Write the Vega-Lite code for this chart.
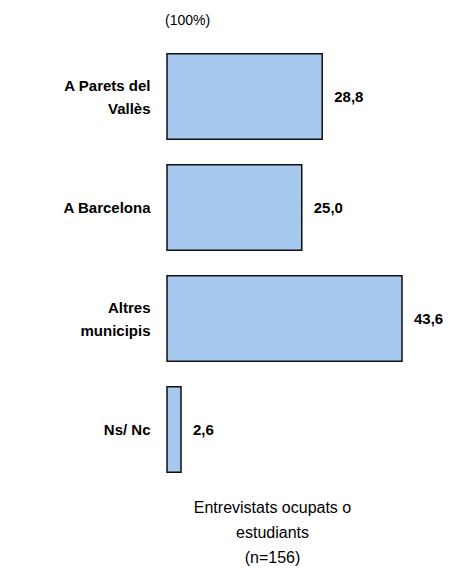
{
  "$schema": "https://vega.github.io/schema/vega-lite/v6.json",
  "autosize": "none",
  "padding": {"left": 167, "top": 41, "right": 63, "bottom": 85},
  "width": 235,
  "height": 444,
  "background": "white",
  "config": {
    "view": {"stroke": null},
    "font": "Liberation Sans",
    "locale": {"number": {"decimal": ",", "thousands": ".", "grouping": [3], "currency": ["", " €"]}}
  },
  "title": {
    "text": "(100%)",
    "anchor": "start",
    "frame": "group",
    "dx": -2,
    "offset": 13,
    "fontSize": 14,
    "fontWeight": "normal",
    "font": "Liberation Sans",
    "color": "#000"
  },
  "data": {
    "values": [
      {"lloc": "A Parets del\nVallès", "pct": 28.8},
      {"lloc": "A Barcelona", "pct": 25.0},
      {"lloc": "Altres\nmunicipis", "pct": 43.6},
      {"lloc": "Ns/ Nc", "pct": 2.6}
    ]
  },
  "encoding": {
    "y": {
      "field": "lloc",
      "type": "nominal",
      "sort": null,
      "scale": {"paddingInner": 0.23, "paddingOuter": 0.115},
      "axis": {
        "title": null,
        "ticks": false,
        "domain": false,
        "labelExpr": "split(datum.label, '\\n')",
        "labelFontSize": 15,
        "labelFontWeight": "bold",
        "labelColor": "#000",
        "labelPadding": 17,
        "labelLineHeight": 23,
        "labelFont": "Liberation Sans",
        "labelOffset": {"condition": {"test": "indexof(datum.value, '\\n') >= 0", "value": -11}, "value": 0}
      }
    },
    "x": {
      "field": "pct",
      "type": "quantitative",
      "scale": {"domain": [0, 43.6], "nice": false, "zero": true},
      "axis": {
        "title": ["Entrevistats ocupats o", "estudiants", "(n=156)"],
        "titleFontSize": 16,
        "titleFontWeight": "normal",
        "titleColor": "#000",
        "titleFont": "Liberation Sans",
        "titleLineHeight": 25,
        "titlePadding": 14,
        "titleX": 105,
        "labels": false,
        "ticks": false,
        "domain": false,
        "grid": false
      }
    }
  },
  "layer": [
    {
      "mark": {"type": "bar", "fill": "#A7C8EE", "stroke": "#111", "strokeWidth": 1.5}
    },
    {
      "mark": {"type": "text", "align": "left", "baseline": "middle", "dx": 12, "fontSize": 15, "fontWeight": "bold", "color": "#000"},
      "encoding": {"text": {"field": "pct", "type": "quantitative", "format": ".1f"}}
    }
  ]
}
